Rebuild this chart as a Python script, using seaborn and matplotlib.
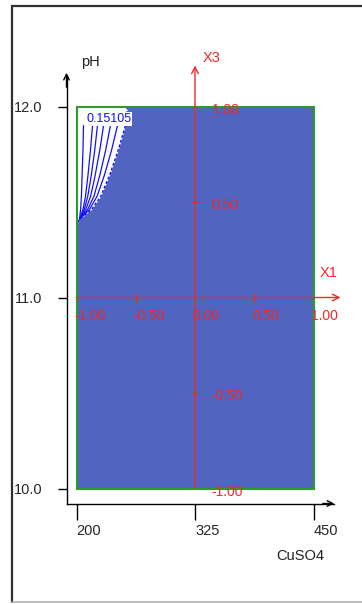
import matplotlib
matplotlib.use("Agg")
import matplotlib.pyplot as plt
from matplotlib.lines import Line2D
from matplotlib.patches import Rectangle
import seaborn as sns

# ---- data ---------------------------------------------------------------
cuso4_ticks = [200, 325, 450]
ph_ticks = [10.0, 11.0, 12.0]
ph_tick_labels = ["10.0", "11.0", "12.0"]
cuso4_tick_labels = ["200", "325", "450"]

# coded factor axes (X1 <-> CuSO4, X3 <-> pH)
x1_codes = [-1.0, -0.5, 0.0, 0.5, 1.0]
x1_labels = ["-1.00", "-0.50", "0.00", "0.50", "1.00"]
x3_codes = [1.0, 0.5, -0.5, -1.0]
x3_labels = ["1.00", "0.50", "-0.50", "-1.00"]

# edge of the region above the lowest contour level
edge_ph = [12.00, 11.90, 11.77, 11.64, 11.53, 11.46, 11.41, 11.38]
edge_cuso4 = [253.7, 251.6, 243.9, 234.9, 225.6, 215.8, 203.2, 200.0]

# contour lines inside that region
contour_ph = [11.90, 11.77, 11.64, 11.53, 11.46, 11.41]
contour_lines = {
    "c1": [207.4, 206.8, 205.9, 205.2, 204.3, 203.2],
    "c2": [216.9, 214.7, 212.1, 209.5, 206.8, 203.2],
    "c3": [222.1, 219.2, 215.6, 211.9, 208.1, 203.2],
    "c4": [228.5, 224.5, 219.7, 214.9, 209.7, 203.2],
    "c5": [235.8, 230.7, 224.6, 218.4, 211.7, 203.2],
    "c6": [243.2, 236.9, 229.4, 221.7, 213.6, 203.2],
}
contour_label = "0.15105"

# ---- style --------------------------------------------------------------
sns.set_theme(style="ticks")
plt.rcParams["font.family"] = ["Liberation Sans", "DejaVu Sans"]

FILL = "#5064c0"
GREEN = "#2e9a2e"
RED = "#f02828"
LINE_BLUE = "#1010ff"
W, H = 362, 604

fig = plt.figure(figsize=(W / 100, H / 100), dpi=100)
fig.patch.set_facecolor("white")

# panel frame
fig.add_artist(Line2D([12 / W, 12 / W], [1 - 6 / H, 1 - 602 / H], color="#303030", lw=1.6))
fig.add_artist(Line2D([12 / W, 1.0], [1 - 6 / H, 1 - 6 / H], color="#303030", lw=1.6))
fig.add_artist(Line2D([12 / W, 1.0], [1 - 602 / H, 1 - 602 / H], color="#b0b0b0", lw=1.2))

left, right, top, bottom = 76.5, 313.5, 106.5, 488.5
ax = fig.add_axes([left / W, 1 - bottom / H, (right - left) / W, (bottom - top) / H])
ax.set_xlim(200, 450)
ax.set_ylim(10, 12)
ax.set_facecolor(FILL)

# region above lowest level
ax.fill_betweenx(edge_ph, 200, edge_cuso4, color="white", lw=0, zorder=1)
sns.lineplot(x=edge_cuso4, y=edge_ph, sort=False, estimator=None, color=LINE_BLUE,
             lw=1.0, ls=(0, (2, 1.5)), ax=ax, zorder=2)
for name, xs in contour_lines.items():
    sns.lineplot(x=xs, y=contour_ph, sort=False, estimator=None, color=LINE_BLUE,
                 lw=0.9, ax=ax, zorder=2)
ax.text(210.5, 11.935, contour_label, color=LINE_BLUE, fontsize=9, ha="left", va="center",
        bbox=dict(facecolor="white", edgecolor="none", pad=0.5), zorder=3)

ax.add_patch(Rectangle((0, 0), 1, 1, transform=ax.transAxes, fill=False,
                       ec=GREEN, lw=1.5, zorder=5, clip_on=False))

# black axes offset outward from the panel
sns.despine(ax=ax, offset={"left": 7.2, "bottom": 10.8})
ax.spines["left"].set_bounds(9.92, 12.16)
ax.spines["bottom"].set_bounds(189.5, 472.0)
for sp in ("left", "bottom"):
    ax.spines[sp].set_color("black")
    ax.spines[sp].set_linewidth(1.0)
ax.set_xticks(cuso4_ticks)
ax.set_xticklabels(cuso4_tick_labels, ha="left")
ax.set_yticks(ph_ticks)
ax.set_yticklabels(ph_tick_labels)
ax.tick_params(axis="x", length=11.5, width=1, color="black", pad=3, labelsize=10.5)
ax.tick_params(axis="y", length=6.5, width=1, color="black", pad=11, labelsize=10.5)
ax.grid(False)

# arrow heads at the ends of the black axes
ax.annotate("", xy=(66.5 / W, 1 - 70 / H), xytext=(66.5 / W, 1 - 90 / H),
            xycoords="figure fraction",
            arrowprops=dict(arrowstyle="->", color="black", lw=1.0, mutation_scale=10))
ax.annotate("", xy=(337 / W, 1 - 503.5 / H), xytext=(320 / W, 1 - 503.5 / H),
            xycoords="figure fraction",
            arrowprops=dict(arrowstyle="->", color="black", lw=1.0, mutation_scale=10))

fig.text(90 / W, 1 - 62 / H, "pH", fontsize=10.5, ha="center", va="center", color="#202020")
fig.text(300 / W, 1 - 556 / H, "CuSO4", fontsize=10.5, ha="center", va="center", color="#202020")

# red coded axes X1 / X3
def cuso4_of(x1):
    return 325 + 125 * x1

def ph_of(x3):
    return 11 + x3

ax.annotate("", xy=(478.5, 11), xytext=(200, 11), xycoords="data",
            arrowprops=dict(arrowstyle="->", color=RED, lw=1.0, mutation_scale=12,
                            shrinkA=0, shrinkB=0),
            annotation_clip=False, zorder=6)
ax.annotate("", xy=(325, 12.215), xytext=(325, 10), xycoords="data",
            arrowprops=dict(arrowstyle="->", color=RED, lw=1.0, mutation_scale=12,
                            shrinkA=0, shrinkB=0),
            annotation_clip=False, zorder=6)
ax.plot([cuso4_of(c) for c in (-0.5, 0.5)], [11, 11], ls="none", marker="|",
        ms=7, mew=1.0, color=RED, zorder=6)
ax.plot([325, 325], [ph_of(c) for c in (0.5, -0.5)], ls="none", marker="_",
        ms=6, mew=1.0, color=RED, zorder=6)

for c, lab in zip(x1_codes, x1_labels):
    ax.annotate(lab, xy=(cuso4_of(c), 11), xytext=(-1.5, -8), textcoords="offset points",
                ha="left", va="top", color=RED, fontsize=10, annotation_clip=False, zorder=7)
for c, lab in zip(x3_codes, x3_labels):
    ax.annotate(lab, xy=(325, ph_of(c)), xytext=(12, -2.5), textcoords="offset points",
                ha="left", va="center", color=RED, fontsize=10, annotation_clip=False, zorder=7)

fig.text(212 / W, 1 - 58 / H, "X3", fontsize=10.5, ha="center", va="center", color=RED)
fig.text(329 / W, 1 - 273 / H, "X1", fontsize=10.5, ha="center", va="center", color=RED)

fig.savefig("out.png", dpi=100, facecolor="white")
